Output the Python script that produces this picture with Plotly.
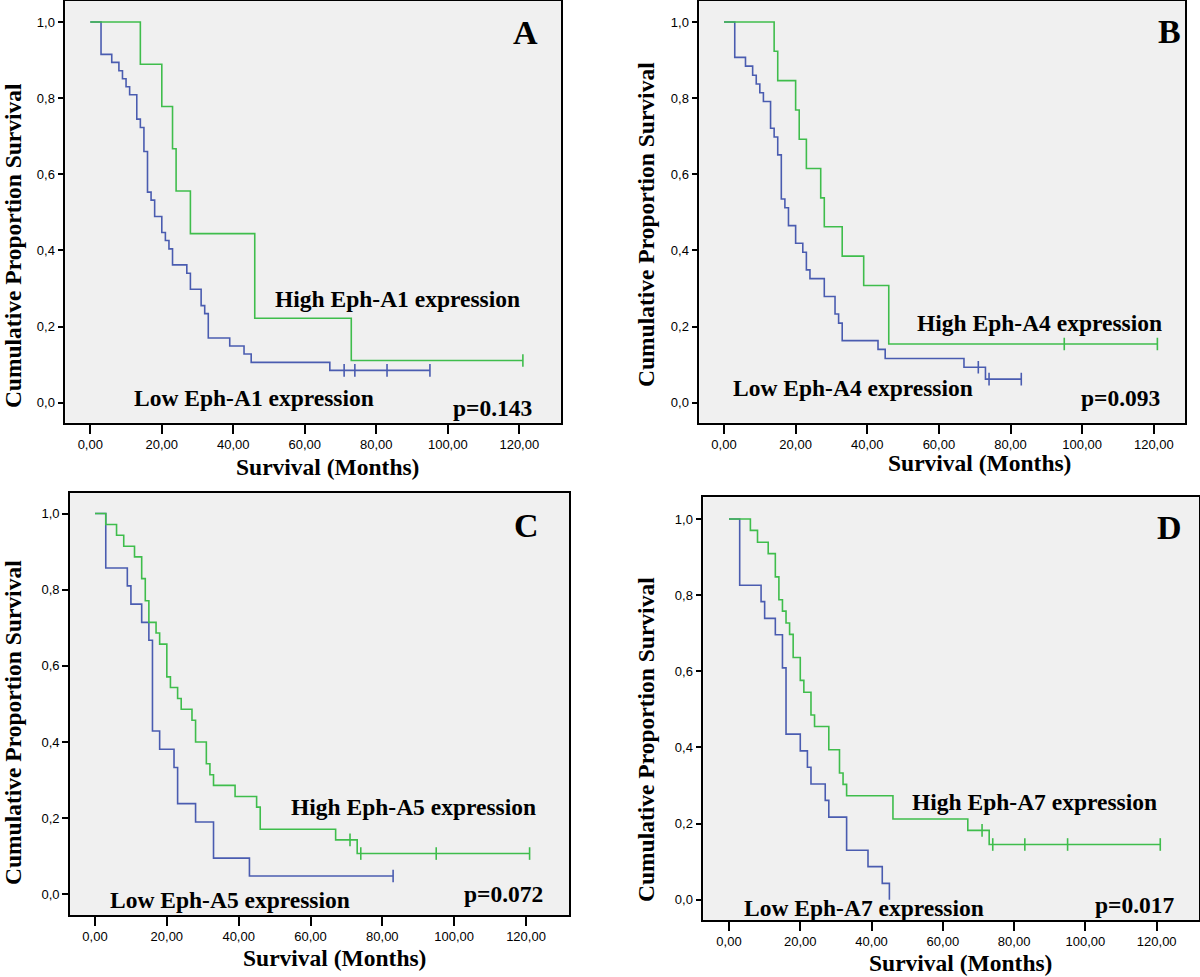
import plotly.graph_objects as go

W, H = 1200, 977

# ---------------- data ----------------
# Panel A : Eph-A1
a_low_t = [3, 6, 8, 9, 10, 11, 13, 14, 15, 16, 17, 18, 20, 21, 22, 23, 27, 28, 31, 32, 33, 39, 43, 45, 67]
a_low_s = [0.915, 0.894, 0.872, 0.851, 0.830, 0.809, 0.745, 0.723, 0.660, 0.553, 0.532, 0.489, 0.447, 0.426,
           0.404, 0.362, 0.340, 0.298, 0.255, 0.234, 0.170, 0.149, 0.128, 0.106, 0.085]
a_low_c = [71, 74, 83, 95]
a_high_t = [14, 20, 23, 24, 28, 46, 73]
a_high_s = [0.889, 0.778, 0.667, 0.556, 0.444, 0.222, 0.111]
a_high_c = [121]

# Panel B : Eph-A4
b_low_t = [3, 6, 8, 9, 10, 11, 13, 14, 15, 16, 17, 18, 20, 22, 23, 24, 28, 31, 32, 33, 43, 45, 67, 73]
b_low_s = [0.907, 0.884, 0.860, 0.837, 0.814, 0.791, 0.721, 0.698, 0.651, 0.535, 0.512, 0.465, 0.419, 0.395,
           0.349, 0.326, 0.279, 0.233, 0.209, 0.163, 0.140, 0.116, 0.093, 0.062]
b_low_c = [71, 74, 83]
b_high_t = [14, 15, 20, 21, 23, 27, 28, 33, 39, 46]
b_high_s = [0.923, 0.846, 0.769, 0.692, 0.615, 0.538, 0.462, 0.385, 0.308, 0.154]
b_high_c = [95, 121]

# Panel C : Eph-A5
c_low_t = [3, 9, 10, 13, 15, 16, 18, 22, 23, 28, 33, 43]
c_low_s = [0.857, 0.810, 0.762, 0.714, 0.667, 0.429, 0.381, 0.333, 0.238, 0.190, 0.095, 0.048]
c_low_c = [83]
c_high_t = [3, 6, 8, 11, 13, 14, 15, 17, 18, 20, 21, 23, 24, 27, 28, 31, 32, 33, 39, 45, 46, 67, 73]
c_high_s = [0.971, 0.943, 0.914, 0.886, 0.829, 0.771, 0.714, 0.686, 0.657, 0.571, 0.543, 0.514, 0.486, 0.457,
            0.400, 0.343, 0.314, 0.286, 0.257, 0.229, 0.171, 0.143, 0.107]
c_high_c = [71, 74, 95, 121]

# Panel D : Eph-A7
d_low_t = [3, 9, 10, 13, 15, 16, 20, 22, 23, 27, 28, 33, 39, 43, 45]
d_low_s = [0.826, 0.783, 0.739, 0.696, 0.609, 0.435, 0.391, 0.348, 0.304, 0.261, 0.217, 0.130, 0.087, 0.043, 0.0]
d_low_c = []
d_high_t = [6, 8, 11, 13, 14, 15, 16, 17, 18, 20, 21, 23, 24, 28, 31, 32, 33, 46, 67, 73]
d_high_s = [0.970, 0.939, 0.909, 0.848, 0.788, 0.758, 0.727, 0.697, 0.636, 0.576, 0.545, 0.485, 0.455, 0.394,
            0.333, 0.303, 0.273, 0.212, 0.182, 0.145]
d_high_c = [71, 74, 83, 95, 121]

panel_letters = ["A", "B", "C", "D"]
genes = ["Eph-A1", "Eph-A4", "Eph-A5", "Eph-A7"]
p_values = ["p=0.143", "p=0.093", "p=0.072", "p=0.017"]

x_tickvals = [0, 20, 40, 60, 80, 100, 120]
x_ticktext = ["0,00", "20,00", "40,00", "60,00", "80,00", "100,00", "120,00"]
y_tickvals = [0, 0.2, 0.4, 0.6, 0.8, 1.0]
y_ticktext = ["0,0", "0,2", "0,4", "0,6", "0,8", "1,0"]

series = [
    (a_low_t, a_low_s, a_low_c, a_high_t, a_high_s, a_high_c),
    (b_low_t, b_low_s, b_low_c, b_high_t, b_high_s, b_high_c),
    (c_low_t, c_low_s, c_low_c, c_high_t, c_high_s, c_high_c),
    (d_low_t, d_low_s, d_low_c, d_high_t, d_high_s, d_high_c),
]

# ---------------- geometry (pixels in the 1200x977 page) ----------------
geom = [
    dict(l=65.3, r=561.0, t=0.5, b=422.7, x0=90.3, x120=519.3, y1=22.0, y0=402.7),
    dict(l=699.3, r=1185.0, t=0.5, b=422.7, x0=724.0, x120=1153.8, y1=22.0, y0=402.7),
    dict(l=70.0, r=569.0, t=492.7, b=915.0, x0=95.0, x120=526.0, y1=513.5, y0=894.3),
    dict(l=703.3, r=1199.0, t=497.3, b=920.0, x0=729.0, x120=1156.7, y1=519.0, y0=899.7),
]
texts = [
    dict(hi=(273, 298.5), lo=(131.5, 397.7), p=(534, 407.5), let=(525, 33), yt=(12.5, 245.6), xt=(327, 467)),
    dict(hi=(914.6, 323.3), lo=(730.8, 388.3), p=(1161.5, 397.7), let=(1169, 32), yt=(646, 225), xt=(979, 463)),
    dict(hi=(288.5, 806.7), lo=(107.7, 900), p=(545.4, 894.3), let=(526, 525), yt=(12.5, 722.5), xt=(334, 958)),
    dict(hi=(909.6, 802.3), lo=(741.5, 907.7), p=(1177, 905), let=(1169.6, 527), yt=(646, 740), xt=(960, 963)),
]

BLUE = "#4a5cb0"
GREEN = "#3fbd4c"
SERIF = "Liberation Serif, Times New Roman, serif"
SANS = "Liberation Sans, Arial, sans-serif"
TXT = 23.5


def fx(p):
    return p / W


def fy(p):
    return 1 - p / H


def step_value(times, surv, t):
    v = 1.0
    for tt, s in zip(times, surv):
        if tt <= t:
            v = s
    return v


fig = go.Figure()
layout_axes = {}
annotations = []

for i, (g, tx, ser) in enumerate(zip(geom, texts, series)):
    n = i + 1
    xa = "x" if n == 1 else f"x{n}"
    ya = "y" if n == 1 else f"y{n}"
    ppm = (g["x120"] - g["x0"]) / 120.0
    ppu = g["y0"] - g["y1"]
    xr = [(g["l"] - g["x0"]) / ppm, (g["r"] - g["x0"]) / ppm]
    yr = [(g["y0"] - g["b"]) / ppu, (g["y0"] - g["t"]) / ppu]

    common = dict(showline=True, mirror=True, linecolor="black", linewidth=1.6,
                  showgrid=False, zeroline=False, ticks="outside", tickcolor="black",
                  tickwidth=1.6, tickfont=dict(family=SANS, size=13, color="black"))
    layout_axes["xaxis" if n == 1 else f"xaxis{n}"] = dict(
        common, domain=[fx(g["l"]), fx(g["r"])], range=xr, anchor=ya,
        tickvals=x_tickvals, ticktext=x_ticktext, ticklen=9)
    layout_axes["yaxis" if n == 1 else f"yaxis{n}"] = dict(
        common, domain=[fy(g["b"]), fy(g["t"])], range=yr, anchor=xa,
        tickvals=y_tickvals, ticktext=y_ticktext, ticklen=6)

    lt, ls, lc, ht, hs, hc = ser
    for times, surv, cens, col, name in [(lt, ls, lc, BLUE, "Low"), (ht, hs, hc, GREEN, "High")]:
        end = max(times + cens)
        fig.add_trace(go.Scatter(
            x=[0] + times + [end], y=[1.0] + surv + [surv[-1]],
            mode="lines", line=dict(color=col, width=1.6, shape="hv"),
            xaxis=xa, yaxis=ya, showlegend=False, name=f"{name} {genes[i]}"))
        if cens:
            fig.add_trace(go.Scatter(
                x=cens, y=[step_value(times, surv, c) for c in cens],
                mode="markers",
                marker=dict(symbol="line-ns-open", size=9, color=col,
                            line=dict(color=col, width=1.6)),
                xaxis=xa, yaxis=ya, showlegend=False, name=f"{name} censored"))

    bold = dict(family=SERIF, size=TXT, color="black", weight="bold")
    annotations += [
        dict(text=f"High {genes[i]} expression", x=fx(tx["hi"][0]), y=fy(tx["hi"][1]),
             xanchor="left", yanchor="middle", font=bold),
        dict(text=f"Low {genes[i]} expression", x=fx(tx["lo"][0]), y=fy(tx["lo"][1]),
             xanchor="left", yanchor="middle", font=bold),
        dict(text=p_values[i], x=fx(tx["p"][0]), y=fy(tx["p"][1]),
             xanchor="right", yanchor="middle", font=bold),
        dict(text=panel_letters[i], x=fx(tx["let"][0]), y=fy(tx["let"][1]),
             xanchor="center", yanchor="middle", font=dict(bold, size=34)),
        dict(text="Cumulative Proportion Survival", x=fx(tx["yt"][0]), y=fy(tx["yt"][1]),
             xanchor="center", yanchor="middle", textangle=-90, font=bold),
        dict(text="Survival (Months)", x=fx(tx["xt"][0]), y=fy(tx["xt"][1]),
             xanchor="center", yanchor="middle", font=bold),
    ]

for a in annotations:
    a.update(xref="paper", yref="paper", showarrow=False)

fig.update_layout(
    width=W, height=H, margin=dict(l=0, r=0, t=0, b=0),
    paper_bgcolor="white", plot_bgcolor="#f0f0f0",
    annotations=annotations, showlegend=False, **layout_axes)

fig.write_html("out.html", config={"displayModeBar": False},
               post_script="document.body.style.margin='0';document.body.style.padding='0';")
